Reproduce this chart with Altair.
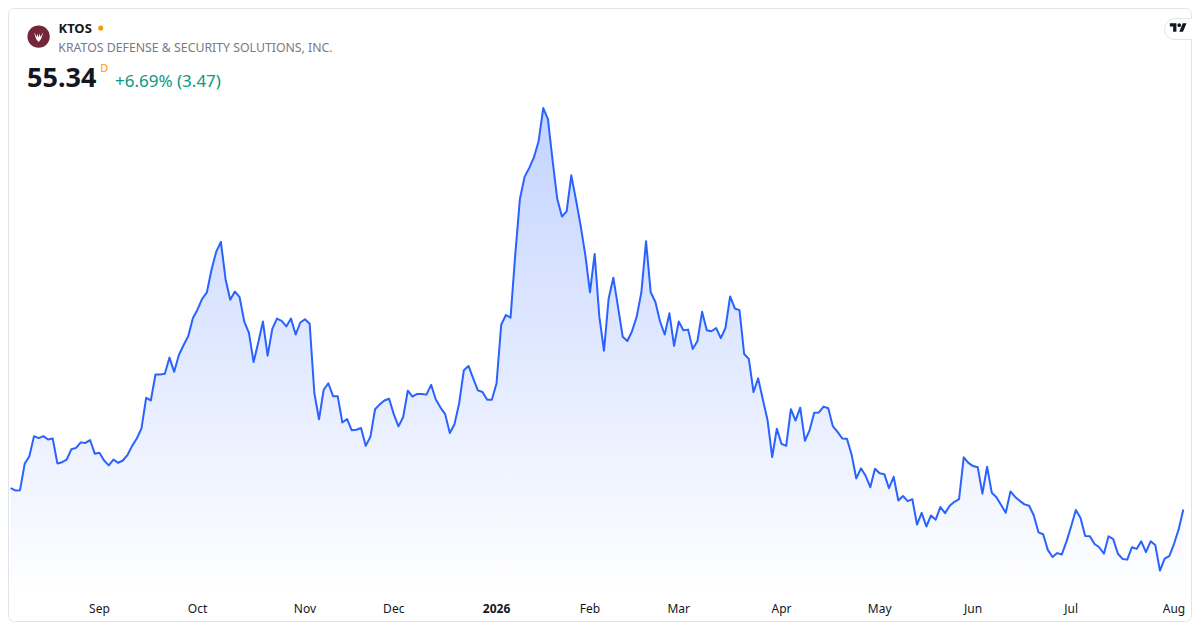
import altair as alt
import pandas as pd

# Daily closes (one value per trading day)
prices = [
    57.53, 57.30, 57.33, 60.03, 60.80, 62.87, 62.67, 62.87, 62.53, 62.63,
    60.07, 60.20, 60.47, 61.53, 61.67, 62.23, 62.17, 62.47, 61.07, 61.17,
    60.37, 59.87, 60.47, 60.13, 60.37, 60.93, 61.87, 62.63, 63.67, 66.80,
    66.53, 69.20, 69.20, 69.27, 70.93, 69.47, 71.20, 72.20, 73.13, 74.97,
    75.87, 76.97, 77.63, 79.97, 81.80, 82.80, 78.97, 76.87, 77.70, 77.13,
    74.63, 73.47, 70.47, 72.47, 74.63, 71.13, 73.87, 74.93, 74.70, 74.13,
    74.93, 73.30, 74.53, 74.87, 74.40, 67.30, 64.60, 67.63, 68.30, 66.97,
    66.97, 64.27, 64.63, 63.47, 63.53, 63.70, 61.87, 62.80, 65.63, 66.13,
    66.53, 66.70, 65.13, 63.87, 64.80, 67.53, 66.93, 67.20, 67.20, 67.13,
    68.13, 66.63, 65.80, 65.13, 63.20, 64.10, 66.25, 69.63, 70.07, 68.80,
    67.57, 67.40, 66.60, 66.60, 68.30, 74.30, 75.30, 75.03, 81.47, 87.20,
    89.47, 90.40, 91.47, 93.13, 96.53, 95.40, 91.13, 87.20, 85.40, 85.93,
    89.63, 87.13, 84.47, 81.47, 77.63, 81.57, 75.13, 71.63, 77.00, 79.13,
    76.13, 73.07, 72.63, 73.63, 75.13, 77.63, 82.87, 77.63, 76.63, 74.63,
    73.30, 75.47, 72.13, 74.63, 73.73, 73.80, 71.80, 72.63, 75.63, 73.73,
    73.63, 73.97, 72.93, 73.97, 77.20, 75.97, 75.80, 71.30, 70.80, 67.40,
    68.80, 66.63, 64.53, 60.73, 63.63, 62.07, 61.87, 65.63, 64.47, 65.80,
    62.40, 63.47, 65.27, 65.30, 65.90, 65.73, 63.87, 63.30, 62.63, 62.60,
    60.97, 58.53, 59.57, 58.80, 57.63, 59.53, 59.07, 58.97, 57.53, 58.70,
    56.27, 56.73, 56.20, 56.40, 53.80, 55.00, 53.60, 54.73, 54.30, 55.60,
    54.97, 55.73, 56.13, 56.40, 60.70, 60.13, 59.80, 59.67, 56.97, 59.73,
    57.07, 56.60, 55.80, 55.00, 57.20, 56.63, 56.23, 55.87, 55.73, 54.73,
    53.00, 52.80, 51.20, 50.47, 50.87, 50.73, 52.07, 53.63, 55.30, 54.47,
    52.63, 52.60, 51.80, 51.47, 50.80, 52.60, 52.30, 50.80, 50.27, 50.20,
    51.47, 51.30, 52.07, 50.97, 52.07, 51.70, 49.07, 50.30, 50.57, 51.80,
    53.30, 55.34,
]

holidays = [
    "2025-09-01", "2025-11-27", "2025-12-25", "2026-01-01", "2026-01-19",
    "2026-02-16", "2026-04-03", "2026-05-25", "2026-06-19", "2026-07-03",
]

ticker = "KTOS"
company = "KRATOS DEFENSE & SECURITY SOLUTIONS, INC."
last_price = "55.34"
change_text = "+6.69% (3.47)"
interval = "D"

dates = pd.bdate_range(start="2025-08-05", periods=len(prices), freq="C", holidays=holidays)
df = pd.DataFrame({"i": list(range(len(prices))), "date": dates.strftime("%Y-%m-%d"), "price": prices})

rows = []
for k in range(1, len(dates)):
    if dates[k].month != dates[k - 1].month:
        jan = dates[k].month == 1
        rows.append({"i": k, "label": dates[k].strftime("%Y") if jan else dates[k].strftime("%b"), "bold": jan})
labels = pd.DataFrame(rows)

W, H = 1184, 614
FONT = "Noto Sans"
xs = alt.Scale(domain=[-0.57, 252.86], nice=False, zero=False)
ys = alt.Scale(domain=[43.8, 106.8], nice=False, zero=False)
BASE = 46.6

one = pd.DataFrame({"k": [0]})

border = alt.Chart(one).mark_rect(
    fillOpacity=0, stroke="#e0e3eb", strokeWidth=1, cornerRadius=6
).encode(x=alt.value(0.5), x2=alt.value(W - 0.5), y=alt.value(0.5), y2=alt.value(H - 0.5))

grad = alt.Gradient(
    gradient="linear",
    stops=[
        alt.GradientStop(color="rgba(41,98,255,0.28)", offset=0),
        alt.GradientStop(color="rgba(41,98,255,0.0)", offset=1),
    ],
    x1=1, x2=1, y1=0, y2=1,
)

area = alt.Chart(df).mark_area(color=grad).encode(
    x=alt.X("i:Q", scale=xs, axis=None),
    y=alt.Y("price:Q", scale=ys, axis=None),
    y2=alt.datum(BASE),
)

line = alt.Chart(df).mark_line(color="#2962ff", strokeWidth=2, strokeJoin="round").encode(
    x=alt.X("i:Q", scale=xs, axis=None),
    y=alt.Y("price:Q", scale=ys, axis=None),
)

lab_norm = alt.Chart(labels).transform_filter("!datum.bold").mark_text(
    font=FONT, fontSize=12, color="#131722", baseline="middle", align="center"
).encode(x=alt.X("i:Q", scale=xs, axis=None), y=alt.value(601), text="label:N")

lab_bold = alt.Chart(labels).transform_filter("datum.bold").mark_text(
    font=FONT, fontSize=12, fontWeight="bold", color="#131722", baseline="middle", align="center"
).encode(x=alt.X("i:Q", scale=xs, axis=None), y=alt.value(601), text="label:N")


def txt(t, x, y, size, color, weight="normal", baseline="alphabetic"):
    return alt.Chart(pd.DataFrame({"t": [t]})).mark_text(
        font=FONT, fontSize=size, color=color, fontWeight=weight, align="left", baseline=baseline
    ).encode(x=alt.value(x), y=alt.value(y), text="t:N")


logo = alt.Chart(one).mark_point(shape="circle", filled=True, color="#73263a", opacity=1, size=500).encode(
    x=alt.value(30.6), y=alt.value(28.6))
logo_icon = alt.Chart(one).mark_point(
    shape="M -0.6 -0.55 L -0.32 0.3 L 0 0.7 L 0.32 0.3 L 0.6 -0.55 L 0.22 0.05 L 0.14 -0.4 L 0 0.15 L -0.14 -0.4 L -0.22 0.05 Z",
    filled=True, color="white", opacity=1, size=240,
).encode(x=alt.value(30.6), y=alt.value(28.6))
dot = alt.Chart(one).mark_point(shape="circle", filled=True, color="#ff9800", opacity=1, size=26).encode(
    x=alt.value(92.7), y=alt.value(20.0))

t_ticker = txt(ticker, 50.5, 24.8, 13, "#131722", "bold")
t_company = txt(company, 50.3, 43.8, 12.3, "#787b86")
t_price = txt(last_price, 19.0, 79.0, 27, "#131722", "bold")
t_int = txt(interval, 92.3, 64.3, 11, "#ff9800")
t_change = txt(change_text, 107.0, 79.0, 17, "#089981")

pill = alt.Chart(one).mark_rect(fill="white", stroke="#e3e5ea", strokeWidth=1, cornerRadius=11).encode(
    x=alt.value(1156.5), x2=alt.value(W + 20), y=alt.value(10.5), y2=alt.value(31.5))
tv = alt.Chart(one).mark_point(
    shape="M -0.222 0.444 H -0.611 V -0.167 H -1 V -0.556 H -0.222 Z "
          "M 0.556 0.444 L 0.111 0.444 L 0.528 -0.556 L 0.972 -0.556 Z "
          "M 0.333 -0.333 A 0.222 0.222 0 1 1 -0.111 -0.333 A 0.222 0.222 0 1 1 0.333 -0.333 Z",
    filled=True, color="#131722", opacity=1, size=285,
).encode(x=alt.value(1170.3), y=alt.value(20.0))

chart = alt.layer(
    border, area, line, lab_norm, lab_bold,
    logo, logo_icon, dot, t_ticker, t_company, t_price, t_int, t_change,
    pill, tv,
).properties(
    width=W, height=H, autosize=alt.AutoSizeParams(type="none"), padding=0, background="white"
).configure_view(stroke=None)

chart.save("out.html", embed_options={"renderer": "svg", "actions": False})
